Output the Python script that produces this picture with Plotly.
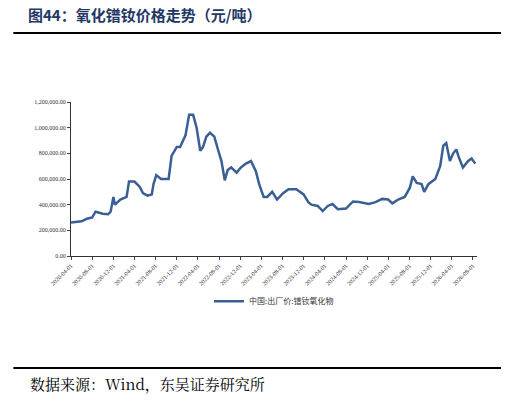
import plotly.graph_objects as go

dates = ["2020-04-01", "2020-06-01", "2020-07-01", "2020-08-01", "2020-08-20", "2020-10-01",
         "2020-11-01", "2020-11-15", "2020-12-01", "2020-12-10", "2021-01-10", "2021-02-15",
         "2021-03-01", "2021-04-01", "2021-05-01", "2021-05-20", "2021-06-15", "2021-07-10",
         "2021-07-20", "2021-08-05", "2021-09-01", "2021-10-15", "2021-11-01", "2021-12-01",
         "2021-12-20", "2022-01-20", "2022-02-10", "2022-03-05", "2022-03-25", "2022-04-15",
         "2022-05-01", "2022-05-20", "2022-06-10", "2022-07-05", "2022-07-28", "2022-08-15",
         "2022-09-03", "2022-09-20", "2022-10-10", "2022-11-10", "2022-12-05", "2023-01-03",
         "2023-02-01", "2023-03-01", "2023-03-20", "2023-04-15", "2023-05-05", "2023-06-03",
         "2023-07-01", "2023-08-05", "2023-09-05", "2023-10-20", "2023-12-01", "2023-12-28",
         "2024-01-15", "2024-02-20", "2024-03-20", "2024-04-18", "2024-05-15", "2024-06-15",
         "2024-08-01", "2024-09-10", "2024-10-15", "2024-12-10", "2025-01-18", "2025-02-25",
         "2025-04-01", "2025-04-25", "2025-05-28", "2025-07-05", "2025-08-03", "2025-08-20",
         "2025-09-12", "2025-10-10", "2025-10-25", "2025-11-18", "2025-12-28", "2026-01-25",
         "2026-02-12", "2026-03-01", "2026-03-22", "2026-04-10", "2026-04-28", "2026-05-12",
         "2026-06-05", "2026-07-05", "2026-07-25", "2026-08-15"]
prices = [260, 270, 290, 300, 345, 330,
          325, 345, 460, 400, 440, 460,
          580, 580, 540, 490, 470, 480,
          560, 630, 600, 600, 780, 850,
          850, 940, 1100, 1100, 1000, 820,
          850, 930, 960, 930, 820, 740,
          590, 670, 690, 650, 690, 720,
          740, 660, 560, 460, 460, 500,
          440, 490, 520, 520, 480, 420,
          400, 390, 350, 390, 405, 365,
          370, 425, 420, 405, 420, 445,
          440, 410, 440, 460, 530, 620,
          570, 560, 500, 560, 600, 700,
          860, 880, 740, 800, 830, 770,
          690, 740, 760, 720]
prices = [p * 1000 for p in prices]

tick_dates = ["2020-04-01", "2020-08-01", "2020-12-01", "2021-04-01", "2021-08-01", "2021-12-01",
              "2022-04-01", "2022-08-01", "2022-12-01", "2023-04-01", "2023-08-01", "2023-12-01",
              "2024-04-01", "2024-08-01", "2024-12-01", "2025-04-01", "2025-08-01", "2025-12-01",
              "2026-04-01", "2026-08-01"]

fig = go.Figure(go.Scatter(x=dates, y=prices, mode="lines", name="中国:出厂价:镨钕氧化物",
                           line=dict(color="#3a5f95", width=2.5)))

fig.update_layout(
    width=509, height=402, plot_bgcolor="white", paper_bgcolor="white",
    margin=dict(l=63, r=40, t=94, b=154),
    font=dict(family="Noto Sans CJK SC", color="#333"),
    showlegend=True,
    legend=dict(orientation="h", x=0.5, xanchor="center", y=-0.2, yanchor="top",
                font=dict(size=8)),
)
fig.add_annotation(text="<b>图44：氧化镨钕价格走势（元/吨）</b>", xref="paper", yref="paper",
                   x=-0.11, y=1.571, xanchor="left", yanchor="middle", showarrow=False,
                   font=dict(size=15, color="#1f3864", family="Noto Sans CJK SC"))
fig.add_annotation(text="数据来源：Wind，东吴证券研究所", xref="paper", yref="paper",
                   x=-0.105, y=-0.831, xanchor="left", yanchor="middle", showarrow=False,
                   font=dict(size=15, color="black", family="Noto Serif CJK SC, Noto Sans CJK SC"))
for yp in [1.448, -0.727]:
    fig.add_shape(type="line", xref="paper", yref="paper", x0=-0.142, x1=1.07, y0=yp, y1=yp,
                  line=dict(color="black", width=2))

fig.update_xaxes(tickmode="array", tickvals=tick_dates, tickformat="%Y-%m-%d", tickangle=-45,
                 tickfont=dict(size=6, family="Liberation Serif"), showgrid=False,
                 showline=True, linecolor="#333", ticks="outside", ticklen=3,
                 range=["2020-04-01", "2026-08-25"])
fig.update_yaxes(range=[0, 1200000], dtick=200000, tickformat=",.2f",
                 tickfont=dict(size=6, family="Liberation Serif"), showgrid=False,
                 showline=True, linecolor="#333", ticks="outside", ticklen=3)

fig.write_html("out.html")
